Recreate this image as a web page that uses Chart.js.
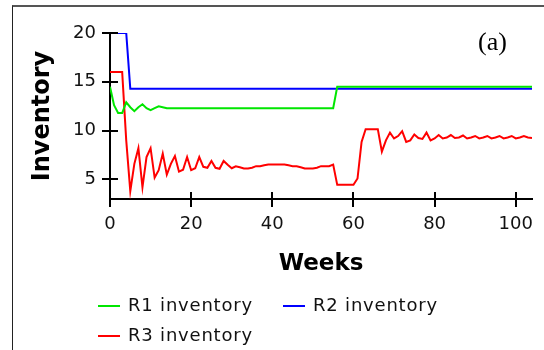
<!DOCTYPE html>
<html>
<head>
<meta charset="utf-8">
<script src="https://cdn.jsdelivr.net/npm/chart.js@4"></script>
<style>
html, body { margin: 0; padding: 0; background: #fff; }
#wrap { position: relative; width: 544px; height: 350px; }
#frame { position: absolute; left: 12px; top: 5px; width: 532px; height: 345px;
         border-top: 2px solid #555; border-left: 1px solid #222;
         box-sizing: border-box; pointer-events: none; }
</style>
</head>
<body>
<div id="wrap">
  <canvas id="chart" width="544" height="350"></canvas>
  <div id="frame"></div>
</div>
<script>
// Inventory per retailer, weekly

const weeks = [
    0, 1, 2, 3, 4, 5, 6, 7, 8, 9, 10, 11, 12, 13, 14, 15, 16, 17, 18, 19,
    20, 21, 22, 23, 24, 25, 26, 27, 28, 29, 30, 31, 32, 33, 34, 35, 36, 37, 38, 39,
    40, 41, 42, 43, 44, 45, 46, 47, 48, 49, 50, 51, 52, 53, 54, 55, 56, 57, 58, 59,
    60, 61, 62, 63, 64, 65, 66, 67, 68, 69, 70, 71, 72, 73, 74, 75, 76, 77, 78, 79,
    80, 81, 82, 83, 84, 85, 86, 87, 88, 89, 90, 91, 92, 93, 94, 95, 96, 97, 98, 99,
    100, 101, 102, 103, 104
];

const r1Inventory = [
    14.5, 12.6, 11.8, 11.8, 12.9, 12.4, 12.0, 12.4, 12.7, 12.3,
    12.1, 12.3, 12.5, 12.4, 12.3, 12.3, 12.3, 12.3, 12.3, 12.3,
    12.3, 12.3, 12.3, 12.3, 12.3, 12.3, 12.3, 12.3, 12.3, 12.3,
    12.3, 12.3, 12.3, 12.3, 12.3, 12.3, 12.3, 12.3, 12.3, 12.3,
    12.3, 12.3, 12.3, 12.3, 12.3, 12.3, 12.3, 12.3, 12.3, 12.3,
    12.3, 12.3, 12.3, 12.3, 12.3, 12.3, 14.5, 14.5, 14.5, 14.5,
    14.5, 14.5, 14.5, 14.5, 14.5, 14.5, 14.5, 14.5, 14.5, 14.5,
    14.5, 14.5, 14.5, 14.5, 14.5, 14.5, 14.5, 14.5, 14.5, 14.5,
    14.5, 14.5, 14.5, 14.5, 14.5, 14.5, 14.5, 14.5, 14.5, 14.5,
    14.5, 14.5, 14.5, 14.5, 14.5, 14.5, 14.5, 14.5, 14.5, 14.5,
    14.5, 14.5, 14.5, 14.5, 14.5
];

const r2Inventory = [
    20, 20, 20, 20, 20, 14.3, 14.3, 14.3, 14.3, 14.3,
    14.3, 14.3, 14.3, 14.3, 14.3, 14.3, 14.3, 14.3, 14.3, 14.3,
    14.3, 14.3, 14.3, 14.3, 14.3, 14.3, 14.3, 14.3, 14.3, 14.3,
    14.3, 14.3, 14.3, 14.3, 14.3, 14.3, 14.3, 14.3, 14.3, 14.3,
    14.3, 14.3, 14.3, 14.3, 14.3, 14.3, 14.3, 14.3, 14.3, 14.3,
    14.3, 14.3, 14.3, 14.3, 14.3, 14.3, 14.3, 14.3, 14.3, 14.3,
    14.3, 14.3, 14.3, 14.3, 14.3, 14.3, 14.3, 14.3, 14.3, 14.3,
    14.3, 14.3, 14.3, 14.3, 14.3, 14.3, 14.3, 14.3, 14.3, 14.3,
    14.3, 14.3, 14.3, 14.3, 14.3, 14.3, 14.3, 14.3, 14.3, 14.3,
    14.3, 14.3, 14.3, 14.3, 14.3, 14.3, 14.3, 14.3, 14.3, 14.3,
    14.3, 14.3, 14.3, 14.3, 14.3
];

const r3Inventory = [
    16, 16, 16, 16, 9, 3.8, 6.6, 8.2, 4.2, 7.3,
    8.2, 5.2, 5.95, 7.65, 5.5, 6.6, 7.4, 5.8, 6.0, 7.3,
    5.95, 6.15, 7.3, 6.3, 6.2, 6.9, 6.2, 6.1, 6.9, 6.5,
    6.15, 6.35, 6.25, 6.12, 6.12, 6.2, 6.36, 6.36, 6.45, 6.53,
    6.53, 6.53, 6.53, 6.53, 6.45, 6.36, 6.36, 6.25, 6.12, 6.12,
    6.12, 6.2, 6.36, 6.36, 6.36, 6.53, 4.45, 4.45, 4.45, 4.45,
    4.45, 5.1, 8.85, 10.15, 10.15, 10.15, 10.15, 7.85, 9.0, 9.8,
    9.2, 9.45, 9.95, 8.85, 9.0, 9.6, 9.25, 9.15, 9.8, 9.0,
    9.2, 9.55, 9.2, 9.3, 9.55, 9.25, 9.3, 9.5, 9.2, 9.3,
    9.45, 9.2, 9.3, 9.45, 9.2, 9.3, 9.45, 9.2, 9.3, 9.45,
    9.2, 9.3, 9.45, 9.3, 9.25
];

const seriesLabels = ['R1 inventory', 'R2 inventory', 'R3 inventory'];
const seriesColors = ['#00e600', '#0000ff', '#ff0000'];

const xTicks = [0, 20, 40, 60, 80, 100];
const yTicks = [5, 10, 15, 20];

const FONT = 'DejaVu Sans';

function toPoints(values) {
    return values.map((v, i) => ({ x: weeks[i], y: v }));
}

// ticks cross the axis: draw the inner half too
const innerTicks = {
    id: 'innerTicks',
    afterDatasetsDraw(chart) {
        const { ctx, chartArea, scales } = chart;
        ctx.save();
        ctx.strokeStyle = '#000';
        ctx.lineWidth = 2;
        ctx.beginPath();
        scales.x.ticks.forEach(t => {
            const px = Math.round(scales.x.getPixelForValue(t.value));
            ctx.moveTo(px, chartArea.bottom);
            ctx.lineTo(px, chartArea.bottom - 7);
        });
        scales.y.ticks.forEach(t => {
            const py = Math.round(scales.y.getPixelForValue(t.value));
            ctx.moveTo(chartArea.left, py);
            ctx.lineTo(chartArea.left + 8, py);
        });
        ctx.stroke();
        ctx.restore();
    }
};

// legend laid out as a two-column grid, plus the panel tag
const gridLegend = {
    id: 'gridLegend',
    afterDraw(chart) {
        const { ctx } = chart;
        ctx.save();
        ctx.font = `18px "${FONT}"`;
        ctx.letterSpacing = '0.8px';
        ctx.textBaseline = 'middle';
        ctx.textAlign = 'left';
        chart.data.datasets.forEach((ds, i) => {
            const x0 = 98 + (i % 2) * 185;
            const y0 = 306 + Math.floor(i / 2) * 30;
            ctx.strokeStyle = ds.borderColor;
            ctx.lineWidth = 2;
            ctx.beginPath();
            ctx.moveTo(x0, y0);
            ctx.lineTo(x0 + 22, y0);
            ctx.stroke();
            ctx.fillStyle = '#111';
            ctx.fillText(ds.label, x0 + 30, y0);
        });
        ctx.letterSpacing = '0px';
        ctx.font = '26px "Liberation Serif"';
        ctx.fillStyle = '#000';
        ctx.textBaseline = 'alphabetic';
        ctx.fillText('(a)', 478, 50);
        ctx.restore();
    }
};

const ctx = document.getElementById('chart').getContext('2d');
const chart = new Chart(ctx, {
    type: 'line',
    data: {
        datasets: seriesLabels.map((label, i) => ({
            label: label,
            data: toPoints([r1Inventory, r2Inventory, r3Inventory][i]),
            borderColor: seriesColors[i],
            backgroundColor: seriesColors[i],
            borderWidth: 2,
            pointRadius: 0,
            tension: 0,
            fill: false,
        }))
    },
    options: {
        responsive: false,
        devicePixelRatio: 1,
        animation: false,
        layout: { padding: { top: 33, right: 12, bottom: 71, left: 0 } },
        plugins: {
            legend: { display: false },
            tooltip: { enabled: false },
        },
        scales: {
            x: {
                type: 'linear',
                min: 0,
                max: 104,
                afterBuildTicks: s => { s.ticks = xTicks.map(v => ({ value: v })); },
                afterFit: s => { s.height = 80; },
                grid: { drawOnChartArea: false, drawTicks: true, tickLength: 8, color: '#000', lineWidth: 2 },
                border: { color: '#000', width: 2 },
                ticks: { color: '#111', font: { family: FONT, size: 18 }, padding: 7, maxRotation: 0 },
                title: {
                    display: true, text: 'Weeks', color: '#000',
                    font: { family: FONT, size: 23, weight: 'bold' },
                    padding: { top: 0, bottom: 1 }
                }
            },
            y: {
                min: 3,
                max: 20,
                afterBuildTicks: s => { s.ticks = yTicks.map(v => ({ value: v })); },
                afterFit: s => { s.width = 110; },
                grid: { drawOnChartArea: false, drawTicks: true, tickLength: 8, color: '#000', lineWidth: 2 },
                border: { color: '#000', width: 2 },
                ticks: { color: '#111', font: { family: FONT, size: 18 }, padding: 6 },
                title: {
                    display: true, text: 'Inventory', color: '#000',
                    font: { family: FONT, size: 24, weight: 'bold' },
                    padding: { top: 28, bottom: 0 }
                }
            }
        }
    },
    plugins: [innerTicks, gridLegend]
});
</script>
</body>
</html>
